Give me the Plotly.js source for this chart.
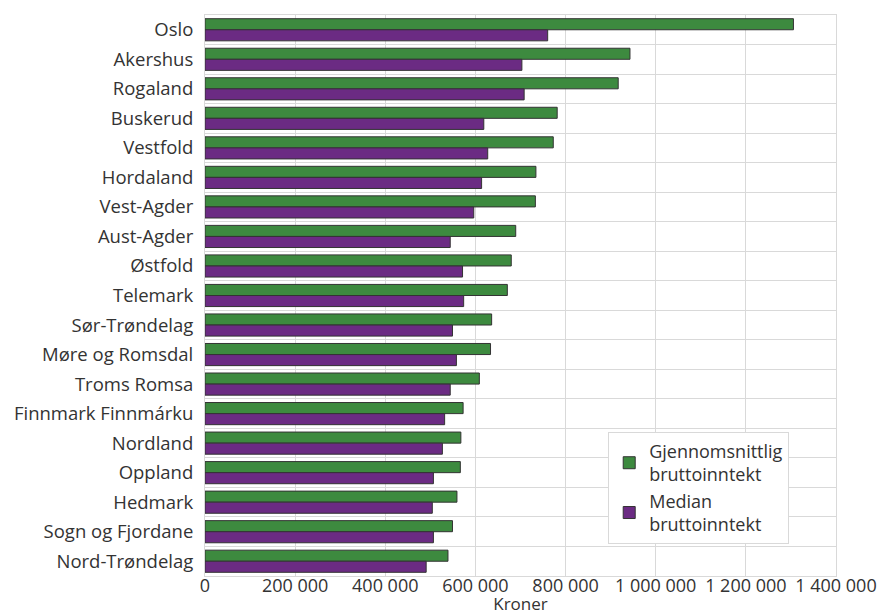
<!DOCTYPE html>
<html>
<head>
<meta charset="utf-8">
<script src="https://cdn.plot.ly/plotly-3.0.1.min.js"></script>
<style>html,body{margin:0;padding:0;background:#fff;}#chart{width:878px;height:615px;}</style>
</head>
<body>
<div id="chart"></div>
<script>
const fylker = ["Oslo","Akershus","Rogaland","Buskerud","Vestfold","Hordaland","Vest-Agder","Aust-Agder","Østfold","Telemark","Sør-Trøndelag","Møre og Romsdal","Troms Romsa","Finnmark Finnmárku","Nordland","Oppland","Hedmark","Sogn og Fjordane","Nord-Trøndelag"];
const gjennomsnitt = [1305600,942900,916800,781400,772700,734200,733000,689400,679500,670800,636000,633500,608700,572700,567700,566500,559000,549100,539100];
const median = [760300,703100,708100,618600,627300,613700,596300,544100,571400,573900,549100,557800,544100,531700,526700,506800,504300,506800,490700];
const seriesNames = ["Gjennomsnittlig<br>bruttoinntekt","Median<br>bruttoinntekt"];
const xTicks = [0,200000,400000,600000,800000,1000000,1200000,1400000];

const traces = [
  {type:"bar", orientation:"h", name:seriesNames[0], y:fylker, x:gjennomsnitt,
   marker:{color:"#3d8a3f", line:{color:"#333333", width:1}}},
  {type:"bar", orientation:"h", name:seriesNames[1], y:fylker, x:median,
   marker:{color:"#6b2b83", line:{color:"#333333", width:1}}}
];
const layout = {
  width:878, height:615,
  margin:{l:205, r:42, t:15, b:39},
  paper_bgcolor:"#fff", plot_bgcolor:"#fff",
  font:{family:"Open Sans, sans-serif", size:18, color:"#333"},
  barmode:"group", bargap:0.25, bargroupgap:0,
  showlegend:true,
  legend:{x:0.639, y:0.257, xanchor:"left", yanchor:"top", bgcolor:"#fff",
          bordercolor:"#d9d9d9", borderwidth:1, font:{size:18, color:"#333"},
          traceorder:"normal", tracegroupgap:0, itemwidth:30},
  xaxis:{range:[0,1400000], tickvals:xTicks, ticktext:xTicks.map(v=>v.toLocaleString("en-US").replace(/,/g," ")),
         tickangle:0, showgrid:true, gridcolor:"#d9d9d9", gridwidth:1,
         showline:true, linecolor:"#d9d9d9", mirror:true, zeroline:false,
         ticks:"", tickfont:{size:18, color:"#333"}, ticklabelstandoff:-7,
         title:{text:"Kroner", font:{size:17, color:"#333"}, standoff:0}},
  yaxis:{type:"category", categoryorder:"array", categoryarray:fylker, autorange:"reversed",
         tickson:"boundaries", showgrid:true, gridcolor:"#d9d9d9", gridwidth:1,
         showline:true, linecolor:"#d9d9d9", mirror:true, ticks:"",
         tickfont:{size:18.5, color:"#333"}, ticklabelstandoff:7}
};
Plotly.newPlot("chart", traces, layout, {displayModeBar:false, staticPlot:true});
</script>
</body>
</html>
